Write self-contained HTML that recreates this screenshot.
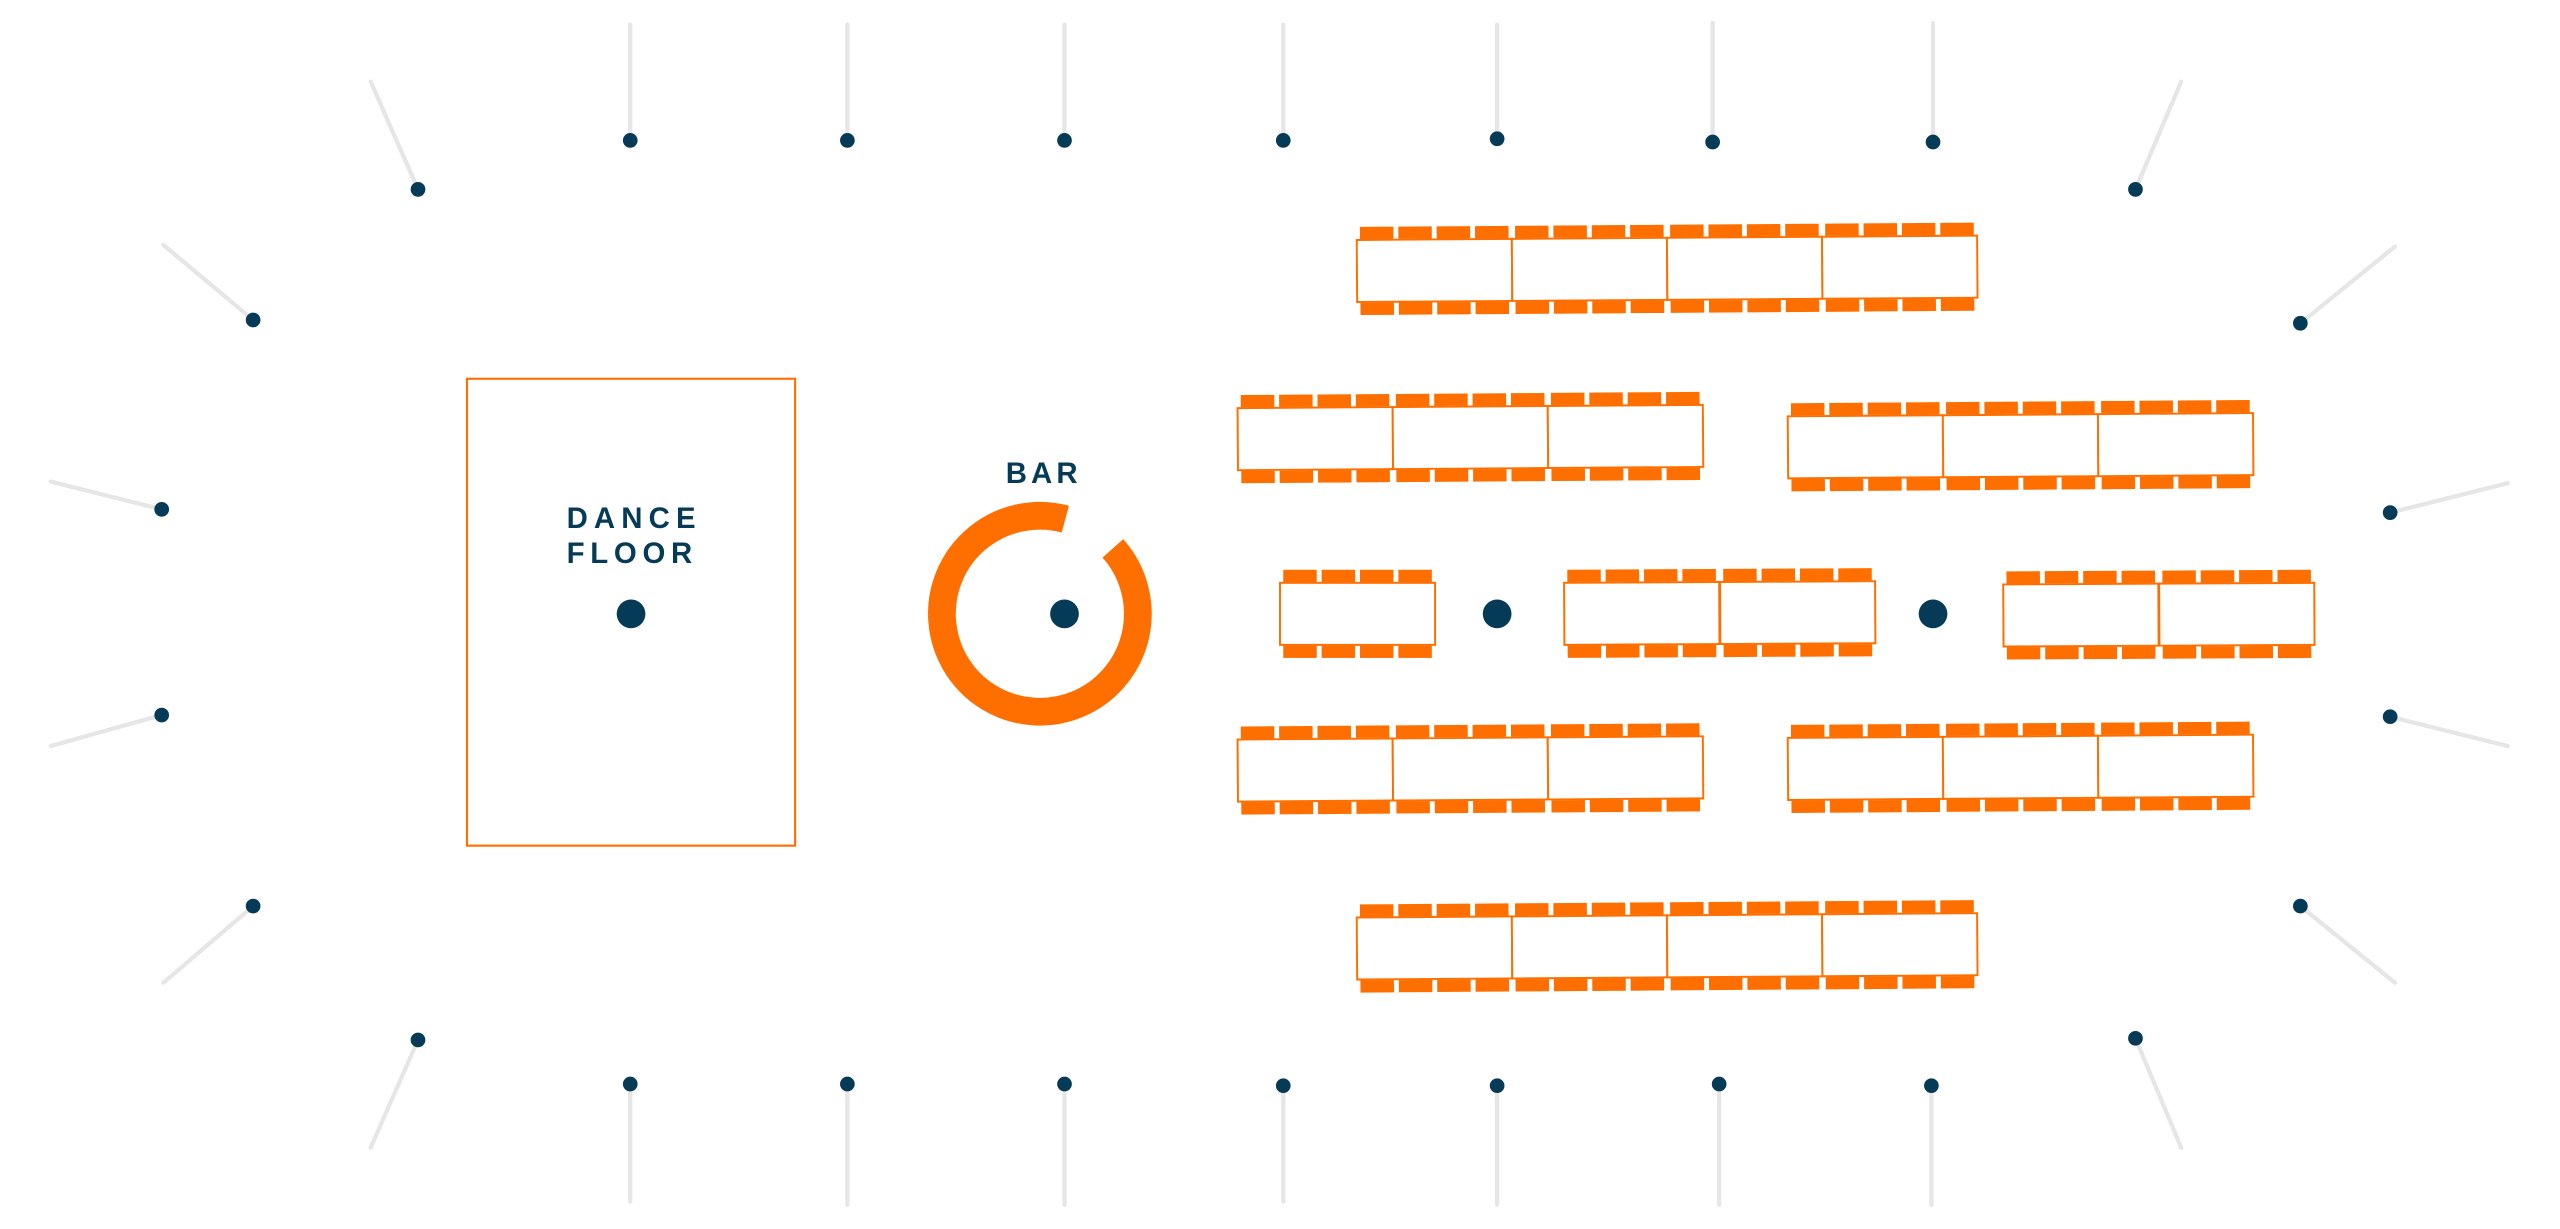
<!DOCTYPE html>
<html><head><meta charset="utf-8"><style>
html,body{margin:0;padding:0;background:#fff;}
svg{display:block;}
text{font-family:"Liberation Sans",sans-serif;font-weight:bold;fill:#063b57;}
</style></head><body>
<svg width="2560" height="1229" viewBox="0 0 1568 752.8" xmlns="http://www.w3.org/2000/svg">
<defs>
<g id="t">
<rect x="0" y="0" width="95" height="38" fill="#fff" stroke="#ff6f00" stroke-width="1.2"/>
<g fill="#ff6f00">
<rect x="2" y="-8" width="20.5" height="7.5"/><rect x="25.5" y="-8" width="20.5" height="7.5"/><rect x="49" y="-8" width="20.5" height="7.5"/><rect x="72.5" y="-8" width="20.5" height="7.5"/>
<rect x="2" y="38.5" width="20.5" height="7.5"/><rect x="25.5" y="38.5" width="20.5" height="7.5"/><rect x="49" y="38.5" width="20.5" height="7.5"/><rect x="72.5" y="38.5" width="20.5" height="7.5"/>
</g>
</g>
</defs>
<g stroke="#e6e6e6" stroke-width="2.6" stroke-linecap="round">
<line x1="386" y1="15" x2="386" y2="86"/><line x1="519" y1="15" x2="519" y2="86"/><line x1="652" y1="15" x2="652" y2="86"/><line x1="786" y1="15" x2="786" y2="86"/><line x1="917" y1="15" x2="917" y2="85"/><line x1="1049" y1="14" x2="1049" y2="87"/><line x1="1184" y1="14" x2="1184" y2="87"/>
<line x1="386" y1="664" x2="386" y2="736"/><line x1="519" y1="664" x2="519" y2="738"/><line x1="652" y1="664" x2="652" y2="738"/><line x1="786" y1="665" x2="786" y2="736"/><line x1="917" y1="665" x2="917" y2="738"/><line x1="1053" y1="664" x2="1053" y2="738"/><line x1="1183" y1="665" x2="1183" y2="738"/>
<line x1="227" y1="50" x2="256" y2="116"/><line x1="1336" y1="50" x2="1308" y2="116"/>
<line x1="100" y1="150" x2="155" y2="196"/><line x1="1467" y1="151" x2="1409" y2="198"/>
<line x1="31" y1="295" x2="99" y2="312"/><line x1="1536" y1="296" x2="1464" y2="314"/>
<line x1="31" y1="457" x2="99" y2="438"/><line x1="1536" y1="457" x2="1464" y2="439"/>
<line x1="100" y1="602" x2="155" y2="555"/><line x1="1467" y1="602" x2="1409" y2="555"/>
<line x1="227" y1="703" x2="256" y2="637"/><line x1="1336" y1="703" x2="1308" y2="636"/>
</g>
<g fill="#063b57">
<circle cx="386" cy="86" r="4.5"/><circle cx="519" cy="86" r="4.5"/><circle cx="652" cy="86" r="4.5"/><circle cx="786" cy="86" r="4.5"/><circle cx="917" cy="85" r="4.5"/><circle cx="1049" cy="87" r="4.5"/><circle cx="1184" cy="87" r="4.5"/>
<circle cx="386" cy="664" r="4.5"/><circle cx="519" cy="664" r="4.5"/><circle cx="652" cy="664" r="4.5"/><circle cx="786" cy="665" r="4.5"/><circle cx="917" cy="665" r="4.5"/><circle cx="1053" cy="664" r="4.5"/><circle cx="1183" cy="665" r="4.5"/>
<circle cx="256" cy="116" r="4.5"/><circle cx="1308" cy="116" r="4.5"/>
<circle cx="155" cy="196" r="4.5"/><circle cx="1409" cy="198" r="4.5"/>
<circle cx="99" cy="312" r="4.5"/><circle cx="1464" cy="314" r="4.5"/>
<circle cx="99" cy="438" r="4.5"/><circle cx="1464" cy="439" r="4.5"/>
<circle cx="155" cy="555" r="4.5"/><circle cx="1409" cy="555" r="4.5"/>
<circle cx="256" cy="637" r="4.5"/><circle cx="1308" cy="636" r="4.5"/>
<circle cx="386.5" cy="376" r="8.8"/><circle cx="652" cy="376" r="8.8"/><circle cx="917" cy="376" r="8.8"/><circle cx="1184" cy="376" r="8.8"/>
</g>
<rect x="286" y="232" width="201" height="286" fill="none" stroke="#ff6f00" stroke-width="1.3"/>
<text x="347" y="323.5" font-size="18" textLength="79" lengthAdjust="spacing">DANCE</text>
<text x="347" y="345" font-size="18" textLength="77" lengthAdjust="spacing">FLOOR</text>
<text x="616" y="296" font-size="18" textLength="44" lengthAdjust="spacing">BAR</text>
<path d="M652.5 318 A60 60 0 1 0 681.6 335.9" fill="none" stroke="#ff6f00" stroke-width="17"/>
<g transform="translate(831,147) rotate(-0.4)"><use href="#t" x="0"/><use href="#t" x="95"/><use href="#t" x="190"/><use href="#t" x="285"/></g>
<g transform="translate(758,250) rotate(-0.4)"><use href="#t" x="0"/><use href="#t" x="95"/><use href="#t" x="190"/></g>
<g transform="translate(1095,255) rotate(-0.4)"><use href="#t" x="0"/><use href="#t" x="95"/><use href="#t" x="190"/></g>
<g transform="translate(784,357)"><use href="#t" x="0"/></g>
<g transform="translate(958,357) rotate(-0.3)"><use href="#t" x="0"/><use href="#t" x="95.5"/></g>
<g transform="translate(1227,358) rotate(-0.3)"><use href="#t" x="0"/><use href="#t" x="95.5"/></g>
<g transform="translate(758,453) rotate(-0.4)"><use href="#t" x="0"/><use href="#t" x="95"/><use href="#t" x="190"/></g>
<g transform="translate(1095,452) rotate(-0.4)"><use href="#t" x="0"/><use href="#t" x="95"/><use href="#t" x="190"/></g>
<g transform="translate(831,562) rotate(-0.4)"><use href="#t" x="0"/><use href="#t" x="95"/><use href="#t" x="190"/><use href="#t" x="285"/></g>
</svg>
</body></html>
